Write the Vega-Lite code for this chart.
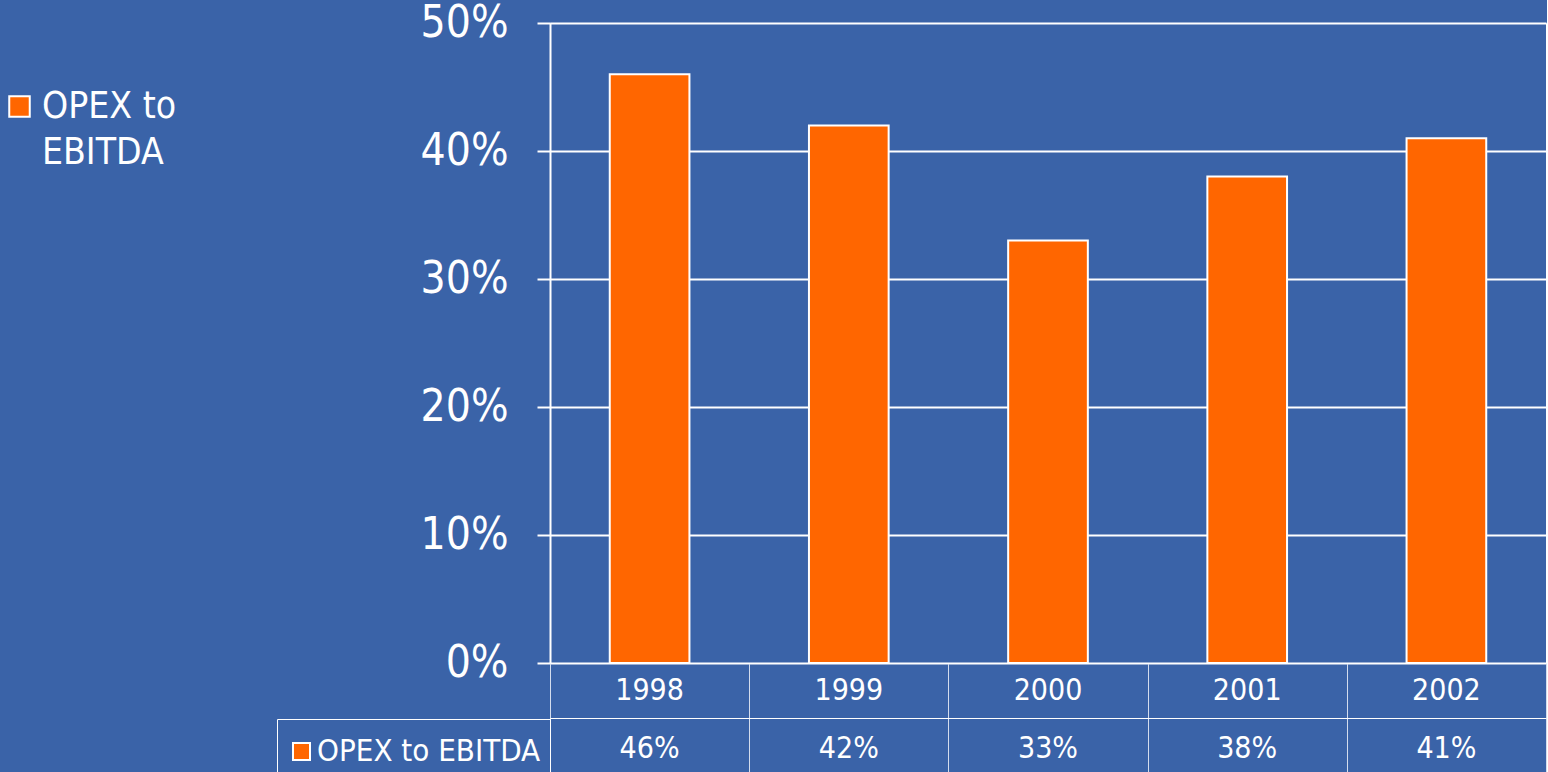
{
  "$schema": "https://vega.github.io/schema/vega-lite/v6.json",
  "background": "#3A63A8",
  "padding": {"left": 0, "top": 0, "right": 0, "bottom": 0},
  "spacing": 0,
  "bounds": "flush",
  "data": {
    "values": [
      {"year": "1998", "value": 0.46, "series": "OPEX to EBITDA"},
      {"year": "1999", "value": 0.42, "series": "OPEX to EBITDA"},
      {"year": "2000", "value": 0.33, "series": "OPEX to EBITDA"},
      {"year": "2001", "value": 0.38, "series": "OPEX to EBITDA"},
      {"year": "2002", "value": 0.41, "series": "OPEX to EBITDA"}
    ]
  },
  "resolve": {"scale": {"color": "independent", "x": "independent"}, "legend": {"color": "independent"}},
  "vconcat": [
    {
      "width": 996,
      "height": 640,
      "mark": {"type": "bar", "stroke": "white", "strokeWidth": 2},
      "encoding": {
        "x": {
          "field": "year",
          "type": "nominal",
          "scale": {"paddingInner": 0.6, "paddingOuter": 0.3},
          "axis": null
        },
        "y": {
          "field": "value",
          "type": "quantitative",
          "scale": {"domain": [0, 0.5]},
          "axis": {
            "title": null,
            "values": [0, 0.1, 0.2, 0.3, 0.4, 0.5],
            "format": ".0%",
            "grid": true,
            "gridColor": "white",
            "gridWidth": 2,
            "gridOpacity": 1,
            "tickSize": 13,
            "tickColor": "white",
            "tickWidth": 2,
            "domainColor": "white",
            "domainWidth": 2,
            "labelColor": "white",
            "labelFontSize": 44,
            "labelPadding": 29,
            "labelFont": "DejaVu Sans Condensed, Liberation Sans, sans-serif"
          }
        },
        "color": {
          "field": "series",
          "type": "nominal",
          "scale": {"range": ["#FF6600"]},
          "legend": {
            "title": null,
            "orient": "none",
            "legendX": -549,
            "legendY": 65,
            "padding": 0,
            "symbolType": "square",
            "symbolSize": 420,
            "symbolStrokeColor": "white",
            "symbolStrokeWidth": 2,
            "symbolOpacity": 1,
            "labelColor": "white",
            "labelFontSize": 37,
            "labelOffset": 4,
            "labelLimit": 400,
            "labelFont": "DejaVu Sans Condensed, Liberation Sans, sans-serif",
            "labelExpr": "[slice(datum.label, 0, 7), slice(datum.label, 8)]",
            "encode": {"labels": {"update": {"lineHeight": {"value": 46}}}}
          }
        }
      }
    },
    {
      "width": 996,
      "height": 109,
      "encoding": {
        "x": {
          "field": "year",
          "type": "nominal",
          "scale": {"paddingInner": 0, "paddingOuter": 0},
          "axis": {
            "title": null,
            "labels": false,
            "ticks": false,
            "domain": false,
            "grid": true,
            "tickBand": "extent",
            "gridColor": "#D4DDEE",
            "gridWidth": 1,
            "gridOpacity": 1
          }
        }
      },
      "layer": [
        {
          "mark": {"type": "text", "color": "white", "fontSize": 30, "dy": 1, "font": "DejaVu Sans Condensed, Liberation Sans, sans-serif"},
          "encoding": {
            "y": {
              "datum": "Year",
              "type": "nominal",
              "scale": {"domain": ["Year", "Value"], "paddingInner": 0, "paddingOuter": 0},
              "axis": {
                "title": null,
                "labels": false,
                "ticks": false,
                "domain": false,
                "grid": true,
                "tickBand": "extent",
                "gridColor": "white",
                "gridWidth": 1,
                "gridOpacity": 1
              }
            },
            "text": {"field": "year"}
          }
        },
        {
          "mark": {"type": "text", "color": "white", "fontSize": 30, "dy": 4, "font": "DejaVu Sans Condensed, Liberation Sans, sans-serif"},
          "encoding": {
            "y": {"datum": "Value", "type": "nominal"},
            "text": {"field": "value", "type": "quantitative", "format": ".0%"}
          }
        },
        {
          "mark": {"type": "square", "opacity": 0, "filled": true},
          "encoding": {
            "y": {"datum": "Value", "type": "nominal"},
            "color": {
              "field": "series",
              "type": "nominal",
              "scale": {"range": ["#FF6600"]},
              "legend": {
                "title": " ",
                "titleFontSize": 6,
                "titlePadding": 2,
                "orient": "none",
                "legendX": -273,
                "legendY": 56,
                "padding": 9,
                "strokeColor": "white",
                "symbolType": "square",
                "symbolSize": 289,
                "symbolStrokeColor": "white",
                "symbolStrokeWidth": 2,
                "symbolOpacity": 1,
                "labelColor": "white",
                "labelFontSize": 31,
                "labelOffset": 0,
                "labelLimit": 400,
                "labelFont": "DejaVu Sans Condensed, Liberation Sans, sans-serif"
              }
            }
          }
        }
      ]
    }
  ],
  "config": {
    "view": {"stroke": "white", "strokeWidth": 1}
  }
}
